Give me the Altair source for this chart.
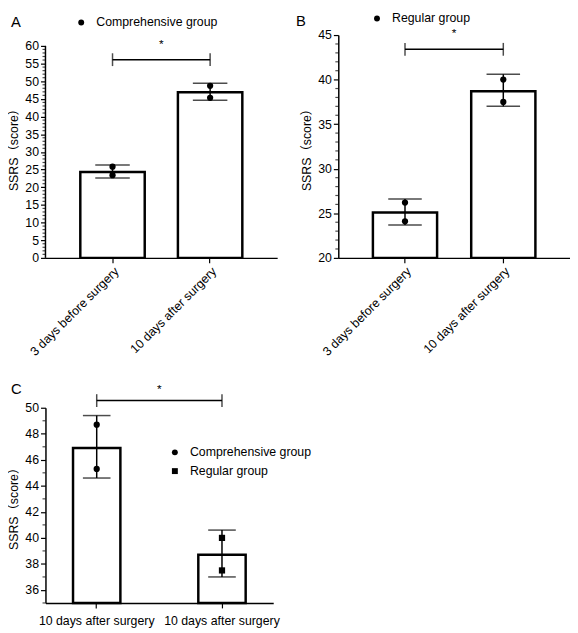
import altair as alt
import pandas as pd

FONT = "Liberation Sans, Arial, Noto Sans CJK SC"
YTITLE = "SSRS（score）"

# ---- Panel A: Comprehensive group ----
a_cats = ["3 days before surgery", "10 days after surgery"]
a_mean = [24.3, 46.9]
a_low = [22.6, 44.6]
a_high = [26.3, 49.4]
a_pt1 = [25.8, 48.7]
a_pt2 = [23.4, 45.3]
a_group = "Comprehensive group"
a_sig = 56.1
a_star = 60.4
a_major = list(range(0, 61, 5))
a_minor = [v for v in range(0, 61) if v % 5]

# ---- Panel B: Regular group ----
b_cats = ["3 days before surgery", "10 days after surgery"]
b_mean = [25.1, 38.7]
b_low = [23.7, 37.0]
b_high = [26.6, 40.6]
b_pt1 = [26.2, 40.0]
b_pt2 = [24.1, 37.5]
b_group = "Regular group"
b_sig = 43.4
b_star = 45.25
b_major = list(range(20, 46, 5))
b_minor = [v for v in range(20, 46) if v % 5]

# ---- Panel C: 10 days after surgery, both groups ----
c_groups = ["Comprehensive group", "Regular group"]
c_labels = ["10 days after surgery", "10 days after surgery"]
c_mean = [46.9, 38.7]
c_low = [44.6, 37.0]
c_high = [49.4, 40.6]
c_pt1 = [48.7, 40.0]
c_pt2 = [45.3, 37.5]
c_sig = 50.55
c_star = 51.4
c_major = list(range(36, 51, 2))
c_minor = [v for v in range(35, 51) if v % 2]


def panel(cats, labels, mean, low, high, pt1, pt2, pt_groups, shape_dom, shape_rng,
          W, H, pad_in, pad_out, ydom, major_vals, minor_vals, label_angle,
          sig_y, star_y, letter, letter_xy, legend_xy, cap_w, ydomain_line=None):
    bars = pd.DataFrame({"cat": cats, "mean": mean, "low": low, "high": high})
    pts = pd.DataFrame({
        "cat": cats + cats,
        "value": pt1 + pt2,
        "group": pt_groups + pt_groups,
    })
    sig = pd.DataFrame({"c1": [cats[0]], "c2": [cats[1]], "y": [sig_y]})
    ends = pd.DataFrame({"cat": [cats[0], cats[1]], "y": [sig_y, sig_y]})
    minor = pd.DataFrame({"v": minor_vals})

    lab_map = "{" + ",".join(f"'{c}': '{l}'" for c, l in zip(cats, labels)) + "}"
    if label_angle != 0:
        xaxis = alt.Axis(title=None, labelAngle=label_angle, labelExpr=f"{lab_map}[datum.label]",
                         tickSize=5, labelPadding=2, labelAlign="right", labelBaseline="top")
    else:
        xaxis = alt.Axis(title=None, labelAngle=0, labelExpr=f"{lab_map}[datum.label]",
                         tickSize=5, labelPadding=7, labelOverlap=False)
    xscale = alt.Scale(domain=cats, paddingInner=pad_in, paddingOuter=pad_out)
    yaxis_major = alt.Axis(
        title=YTITLE, values=major_vals, tickCount=len(major_vals) + 5,
        labelOverlap=False, labelFlush=False, tickSize=5,
        domain=ydomain_line is None, titlePadding=4, labelPadding=2,
    )
    yscale = alt.Scale(domain=ydom, nice=False, zero=False)

    base_bars = alt.Chart(bars).mark_bar(fill="white", stroke="black", strokeWidth=2.5).encode(
        x=alt.X("cat:N", scale=xscale, axis=xaxis, sort=cats),
        y=alt.Y("mean:Q", scale=yscale, axis=yaxis_major),
        y2=alt.datum(ydom[0]),
    )
    minor_ticks = alt.Chart(minor).mark_tick(color="black", thickness=1.2, size=3,
                                             orient="horizontal", clip=False).encode(
        x=alt.value(-1.5), y=alt.Y("v:Q"))
    err = alt.Chart(bars).mark_rule(color="black", strokeWidth=1.5).encode(
        x=alt.X("cat:N", sort=cats), y="low:Q", y2="high:Q")
    caps_lo = alt.Chart(bars).mark_tick(color="black", thickness=1.5, size=cap_w).encode(
        x=alt.X("cat:N", sort=cats), y="low:Q")
    caps_hi = alt.Chart(bars).mark_tick(color="black", thickness=1.5, size=cap_w).encode(
        x=alt.X("cat:N", sort=cats), y="high:Q")
    points = alt.Chart(pts).mark_point(filled=True, color="black", opacity=1, size=40).encode(
        x=alt.X("cat:N", sort=cats),
        y="value:Q",
        shape=alt.Shape("group:N", scale=alt.Scale(domain=shape_dom, range=shape_rng),
                        legend=alt.Legend(orient="none", legendX=legend_xy[0], legendY=legend_xy[1],
                                          title=None, padding=0, labelFont=FONT, labelFontSize=12.5,
                                          labelColor="black", symbolSize=36, labelOffset=9,
                                          symbolFillColor="black", symbolStrokeColor="black",
                                          rowPadding=6)),
    )
    sig_line = alt.Chart(sig).mark_rule(color="black", strokeWidth=1.5).encode(
        x=alt.X("c1:N", sort=cats), x2="c2:N", y="y:Q")
    sig_ends = alt.Chart(ends).mark_tick(color="black", thickness=1.5, size=13, orient="vertical").encode(
        x=alt.X("cat:N", sort=cats), y="y:Q")
    star = alt.Chart(sig).mark_text(text="*", fontSize=12, font=FONT, color="black").encode(
        x=alt.value(W / 2), y=alt.datum(star_y))
    let = alt.Chart(sig).mark_text(text=letter, fontSize=15, font=FONT, color="black",
                                   align="left", baseline="alphabetic").encode(
        x=alt.value(letter_xy[0]), y=alt.value(letter_xy[1]))
    layers = [base_bars, minor_ticks, err, caps_lo, caps_hi, points, sig_line, sig_ends, star, let]
    if ydomain_line is not None:
        yl = alt.Chart(sig).mark_rule(color="black", strokeWidth=1.5).encode(
            x=alt.value(0), y=alt.datum(ydomain_line[0]), y2=alt.datum(ydomain_line[1]))
        layers.append(yl)
    return alt.layer(*layers).properties(width=W, height=H)


pa = panel(a_cats, a_cats, a_mean, a_low, a_high, a_pt1, a_pt2, [a_group] * 2,
           [a_group], ["circle"], 235, 226, 0.34, 0.357, [0, 60 * 226 / 215],
           a_major, a_minor, -45, a_sig, a_star, "A", (-35, -8),
           (30, -19), 35, ydomain_line=(0, 60))
pb = panel(b_cats, b_cats, b_mean, b_low, b_high, b_pt1, b_pt2, [b_group] * 2,
           [b_group], ["circle"], 235, 226, 0.347, 0.352, [20, 45],
           b_major, b_minor, -45, b_sig, b_star, "B", (-43, -9),
           (33, -23), 34)
pc = panel(c_groups, c_labels, c_mean, c_low, c_high, c_pt1, c_pt2, c_groups,
           c_groups, ["circle", "square"], 231, 198, 0.622, 0.22, [35, 50],
           c_major, c_minor, 0, c_sig, c_star, "C", (-35, -14),
           (125, 39), 28)

chart = alt.concat(pa, pb, pc, columns=2, spacing={"row": 152, "column": 62}, bounds="flush").resolve_scale(
    shape="independent"
).properties(padding=0).configure_view(
    stroke=None
).configure_axis(
    grid=False, domainColor="black", domainWidth=1.5, tickColor="black", tickWidth=1.2,
    labelColor="black", labelFont=FONT, labelFontSize=12.5, titleFont=FONT,
    titleFontSize=12.5, titleFontWeight="normal", titleColor="black", labelOverlap=False,
)

chart.save("out.html", embed_options={"renderer": "svg", "actions": False})
